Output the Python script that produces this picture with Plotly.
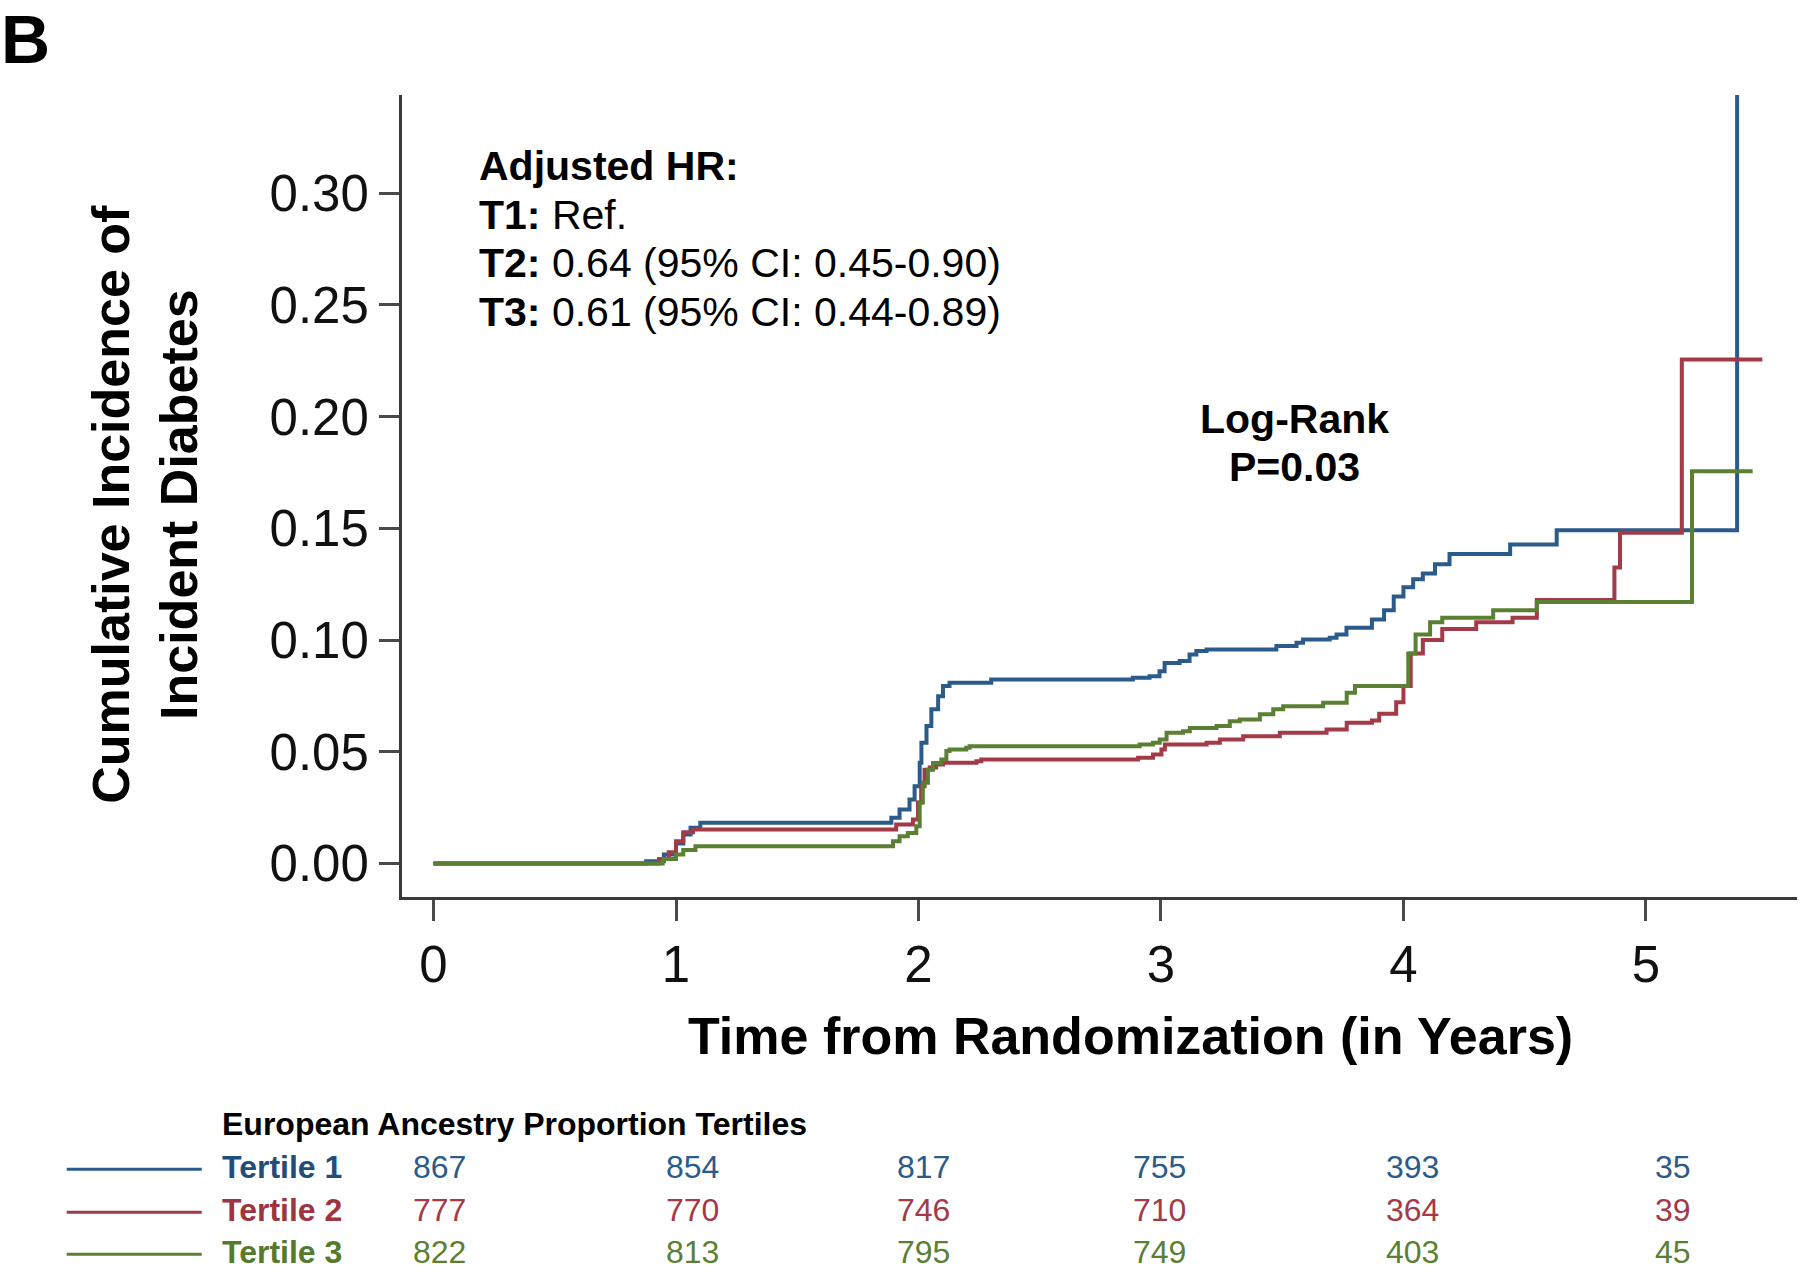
import plotly.graph_objects as go

# ---------------- data ----------------
t1_time = [0, 0.877, 0.95, 1.0, 1.03, 1.06, 1.10, 1.888, 1.922, 1.963, 1.984, 2.005, 2.012, 2.033,
           2.053, 2.081, 2.101, 2.128, 2.300, 2.884, 2.953, 2.994, 3.015, 3.077, 3.118, 3.146, 3.188,
           3.476, 3.559, 3.586, 3.696, 3.724, 3.765, 3.87, 3.92, 3.96, 4.0, 4.04, 4.08, 4.13, 4.19,
           4.44, 4.632, 5.376]
t1_inc = [0, 0.001, 0.004, 0.009, 0.013, 0.016, 0.0182, 0.0205, 0.0242, 0.0286, 0.0346, 0.0451, 0.054,
          0.0615, 0.069, 0.0749, 0.0794, 0.0809, 0.0824, 0.0831, 0.0838, 0.0861, 0.0898, 0.0906, 0.0936,
          0.0951, 0.0958, 0.0973, 0.0988, 0.1003, 0.101, 0.1025, 0.1055, 0.1092, 0.1134, 0.1195, 0.1236,
          0.1272, 0.1298, 0.1339, 0.1385, 0.1428, 0.1492, 1.0]

t2_time = [0, 0.93, 0.97, 1.0, 1.03, 1.07, 1.908, 1.977, 1.998, 2.011, 2.025, 2.046, 2.073, 2.101,
           2.239, 2.259, 2.906, 2.967, 3.002, 3.016, 3.188, 3.243, 3.339, 3.490, 3.683, 3.766, 3.87,
           3.90, 3.97, 4.0, 4.03, 4.08, 4.16, 4.30, 4.45, 4.55, 4.87, 4.893, 5.148, 5.48]
t2_inc = [0, 0.002, 0.005, 0.010, 0.014, 0.0152, 0.0175, 0.0197, 0.0273, 0.0346, 0.042, 0.043, 0.0443,
          0.0451, 0.0458, 0.0466, 0.0473, 0.0488, 0.051, 0.0533, 0.054, 0.0555, 0.057, 0.0585, 0.06,
          0.063, 0.064, 0.067, 0.0722, 0.0795, 0.094, 0.100, 0.105, 0.108, 0.110, 0.118, 0.1325, 0.148,
          0.2256, 0.2256]

t3_time = [0, 0.945, 1.0, 1.03, 1.08, 1.895, 1.922, 1.956, 1.991, 2.005, 2.018, 2.039, 2.060, 2.094,
           2.115, 2.128, 2.197, 2.211, 2.912, 2.967, 2.995, 3.023, 3.091, 3.119, 3.229, 3.284, 3.325,
           3.408, 3.463, 3.504, 3.669, 3.766, 3.80, 4.02, 4.05, 4.11, 4.16, 4.37, 4.55, 5.19, 5.44]
t3_inc = [0, 0.002, 0.004, 0.006, 0.0077, 0.010, 0.0122, 0.0137, 0.0167, 0.0273, 0.0361, 0.042, 0.045,
          0.0465, 0.0503, 0.051, 0.0518, 0.0525, 0.0533, 0.054, 0.0555, 0.0585, 0.0592, 0.0607, 0.0615,
          0.0637, 0.0645, 0.0668, 0.069, 0.0704, 0.0719, 0.0764, 0.0795, 0.094, 0.1025, 0.108, 0.110,
          0.1134, 0.117, 0.1756, 0.1756]

series_names = ["Tertile 1", "Tertile 2", "Tertile 3"]
at_risk = [
    [867, 854, 817, 755, 393, 35],
    [777, 770, 746, 710, 364, 39],
    [822, 813, 795, 749, 403, 45],
]
x_ticks = [0, 1, 2, 3, 4, 5]
y_ticks = [0.00, 0.05, 0.10, 0.15, 0.20, 0.25, 0.30]

# ---------------- style ----------------
line_colors = ["#2b5b8a", "#a23a47", "#5b8034"]
text_colors = ["#1f4e7a", "#9e3440", "#557a2c"]
FONT = "Liberation Sans"

W, H = 1800, 1273
L, R, T, B = 402, 3, 95, 375.5
PW, PH = W - L - R, H - T - B


def px(xp):
    return (xp - L) / PW


def py(yp):
    return (H - B - yp) / PH


fig = go.Figure()
for tt, yy, c, n in zip([t1_time, t2_time, t3_time], [t1_inc, t2_inc, t3_inc], line_colors, series_names):
    fig.add_trace(go.Scatter(x=tt, y=yy, mode="lines", line=dict(color=c, width=4, shape="hv"),
                             name=n, showlegend=False))

fig.update_layout(
    width=W, height=H,
    margin=dict(l=L, r=R, t=T, b=B),
    paper_bgcolor="white", plot_bgcolor="white",
    font=dict(family=FONT, color="#111"),
    xaxis=dict(range=[-0.130, 5.623], tickvals=x_ticks, ticktext=[str(v) for v in x_ticks],
               showline=True, linecolor="#3a3a3a", linewidth=3, showgrid=False, zeroline=False,
               ticks="outside", ticklen=21, tickwidth=3, tickcolor="#4a4a4a",
               tickfont=dict(family=FONT, size=51, color="#111"), ticklabelstandoff=0),
    yaxis=dict(range=[-0.015, 0.344], tickvals=y_ticks, ticktext=["%.2f" % v for v in y_ticks],
               showline=True, linecolor="#3a3a3a", linewidth=3, showgrid=False, zeroline=False,
               ticks="outside", ticklen=20, tickwidth=3, tickcolor="#4a4a4a",
               tickfont=dict(family=FONT, size=51, color="#111"), ticklabelstandoff=0),
)

ann = []
# panel letter
ann.append(dict(text="<b>B</b>", x=px(0), y=py(0), xref="paper", yref="paper", xanchor="left",
                yanchor="top", showarrow=False, borderpad=0,
                font=dict(family=FONT, size=68, color="black")))
# axis titles
ann.append(dict(text="<b>Cumulative Incidence of<br>Incident Diabetes</b>", x=px(145), y=py(505),
                xref="paper", yref="paper", xanchor="center", yanchor="middle", textangle=-90,
                showarrow=False, font=dict(family=FONT, size=52, color="black")))
ann.append(dict(text="<b>Time from Randomization (in Years)</b>", x=px(1130), y=py(1037),
                xref="paper", yref="paper", xanchor="center", yanchor="middle",
                showarrow=False, font=dict(family=FONT, size=52, color="black")))
# HR text
hr_lines = ["<b>Adjusted HR:</b>", "<b>T1:</b> Ref.", "<b>T2:</b> 0.64 (95% CI: 0.45-0.90)",
            "<b>T3:</b> 0.61 (95% CI: 0.44-0.89)"]
for i, s in enumerate(hr_lines):
    ann.append(dict(text=s, x=px(477), y=py(166.5 + 48.5 * i), xref="paper", yref="paper",
                    xanchor="left", yanchor="middle", showarrow=False,
                    font=dict(family=FONT, size=41, color="black")))
ann.append(dict(text="<b>Log-Rank</b>", x=px(1294), y=py(419), xref="paper", yref="paper",
                xanchor="center", yanchor="middle", showarrow=False,
                font=dict(family=FONT, size=41, color="black")))
ann.append(dict(text="<b>P=0.03</b>", x=px(1294), y=py(467), xref="paper", yref="paper",
                xanchor="center", yanchor="middle", showarrow=False,
                font=dict(family=FONT, size=41, color="black")))

# risk table
ann.append(dict(text="<b>European Ancestry Proportion Tertiles</b>", x=px(220), y=py(1125),
                xref="paper", yref="paper", xanchor="left", yanchor="middle", showarrow=False,
                font=dict(family=FONT, size=32, color="black")))
row_y = [1168, 1211, 1253]
num_x = [0.024, 1.068, 2.021, 2.995, 4.039, 5.112]
shapes = []
for i in range(3):
    ann.append(dict(text="<b>%s</b>" % series_names[i], x=px(220), y=py(row_y[i]), xref="paper",
                    yref="paper", xanchor="left", yanchor="middle", showarrow=False,
                    font=dict(family=FONT, size=32, color=text_colors[i])))
    for xv, v in zip(num_x, at_risk[i]):
        ann.append(dict(text=str(v), x=xv, y=py(row_y[i]), xref="x", yref="paper", xanchor="center",
                        yanchor="middle", showarrow=False,
                        font=dict(family=FONT, size=32, color=line_colors[i])))
    shapes.append(dict(type="line", xref="paper", yref="paper", x0=px(66.7), x1=px(201.7),
                       y0=py(row_y[i] + 2), y1=py(row_y[i] + 2),
                       line=dict(color=line_colors[i], width=3)))

fig.update_layout(annotations=ann, shapes=shapes)
fig.write_html("out.html", config={"displayModeBar": False},
               post_script="document.body.style.margin='0px';document.body.style.overflow='hidden';")
